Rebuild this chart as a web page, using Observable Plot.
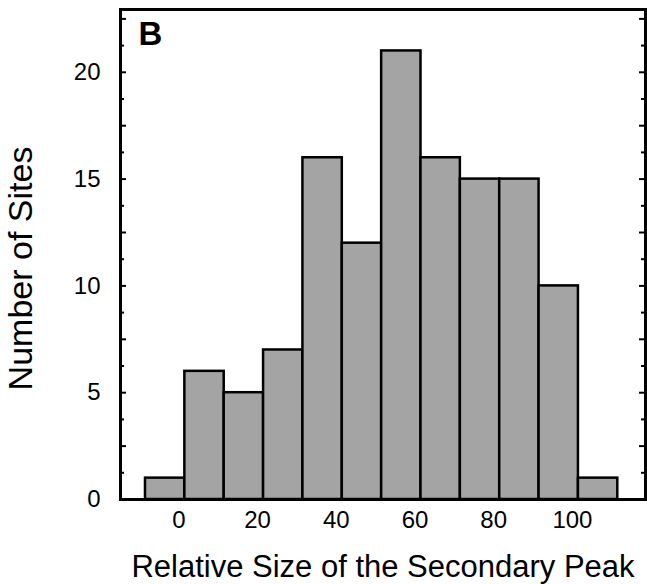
<!DOCTYPE html>
<html>
<head>
<meta charset="utf-8">
<script src="https://cdn.jsdelivr.net/npm/d3@7"></script>
<script src="https://cdn.jsdelivr.net/npm/@observablehq/plot@0.6"></script>
<style>
  html, body { margin: 0; padding: 0; background: #fff; }
  #chart svg { display: block; }
</style>
</head>
<body>
<div id="chart"></div>
<script>
// Histogram bins (lower edge, upper edge) and counts
const binLower = [-10, 0, 10, 20, 30, 40, 50, 60, 70, 80, 90, 100];
const binUpper = [0, 10, 20, 30, 40, 50, 60, 70, 80, 90, 100, 110];
const counts   = [1, 6, 5, 7, 16, 12, 21, 16, 15, 15, 10, 1];

const xTickLabels = [0, 20, 40, 60, 80, 100];
const yTickLabels = [0, 5, 10, 15, 20];
const yMajorTicks = [0, 2.5, 5, 7.5, 10, 12.5, 15, 17.5, 20, 22.5];
const yMinorTicks = [1.25, 3.75, 6.25, 8.75, 11.25, 13.75, 16.25, 18.75, 21.25];

const xTitle = "Relative Size of the Secondary Peak";
const yTitle = "Number of Sites";
const panelLabel = "B";

const data = binLower.map((lo, i) => ({lo, hi: binUpper[i], count: counts[i]}));

const W = 647, H = 584;
const mL = 120, mR = 2, mT = 9, mB = 85;
const plotW = W - mL - mR;
const font = "'Liberation Sans', Arial, Helvetica, sans-serif";

const chart = Plot.plot({
  width: W,
  height: H,
  marginLeft: mL,
  marginRight: mR,
  marginTop: mT,
  marginBottom: mB,
  style: {fontFamily: font, background: "#fff", color: "#000"},
  x: {domain: [-16.35, 117.04]},
  y: {domain: [0, 22.94]},
  marks: [
    Plot.rectY(data, {x1: "lo", x2: "hi", y: "count", fill: "#a4a4a4", stroke: "#000", strokeWidth: 2.5}),
    // inward ticks, left and right
    Plot.tickY(yMajorTicks, {y: d => d, stroke: "#000", strokeWidth: 2, insetRight: plotW - 6}),
    Plot.tickY(yMinorTicks, {y: d => d, stroke: "#000", strokeWidth: 2, insetRight: plotW - 4}),
    Plot.tickY(yMajorTicks, {y: d => d, stroke: "#000", strokeWidth: 2, insetLeft: plotW - 6}),
    Plot.tickY(yMinorTicks, {y: d => d, stroke: "#000", strokeWidth: 2, insetLeft: plotW - 4}),
    Plot.axisY({ticks: yTickLabels, tickSize: 0, tickPadding: 20, fontSize: 24, label: null, anchor: "left"}),
    Plot.axisX({ticks: xTickLabels, tickSize: 0, tickPadding: 11, fontSize: 24, label: null, dx: -6, anchor: "bottom"}),
    Plot.frame({stroke: "#000", strokeWidth: 3}),
    Plot.text([panelLabel], {frameAnchor: "top-left", dx: 18, dy: 12, fontSize: 33, fontWeight: "bold", textAnchor: "start", lineAnchor: "top"}),
    Plot.text([xTitle], {frameAnchor: "bottom", dy: 68, fontSize: 31, lineAnchor: "middle", textAnchor: "middle"}),
    Plot.text([yTitle], {frameAnchor: "left", dx: -99, dy: 14, rotate: -90, fontSize: 34, lineAnchor: "middle", textAnchor: "middle"})
  ]
});

document.getElementById("chart").appendChild(chart);
</script>
</body>
</html>
